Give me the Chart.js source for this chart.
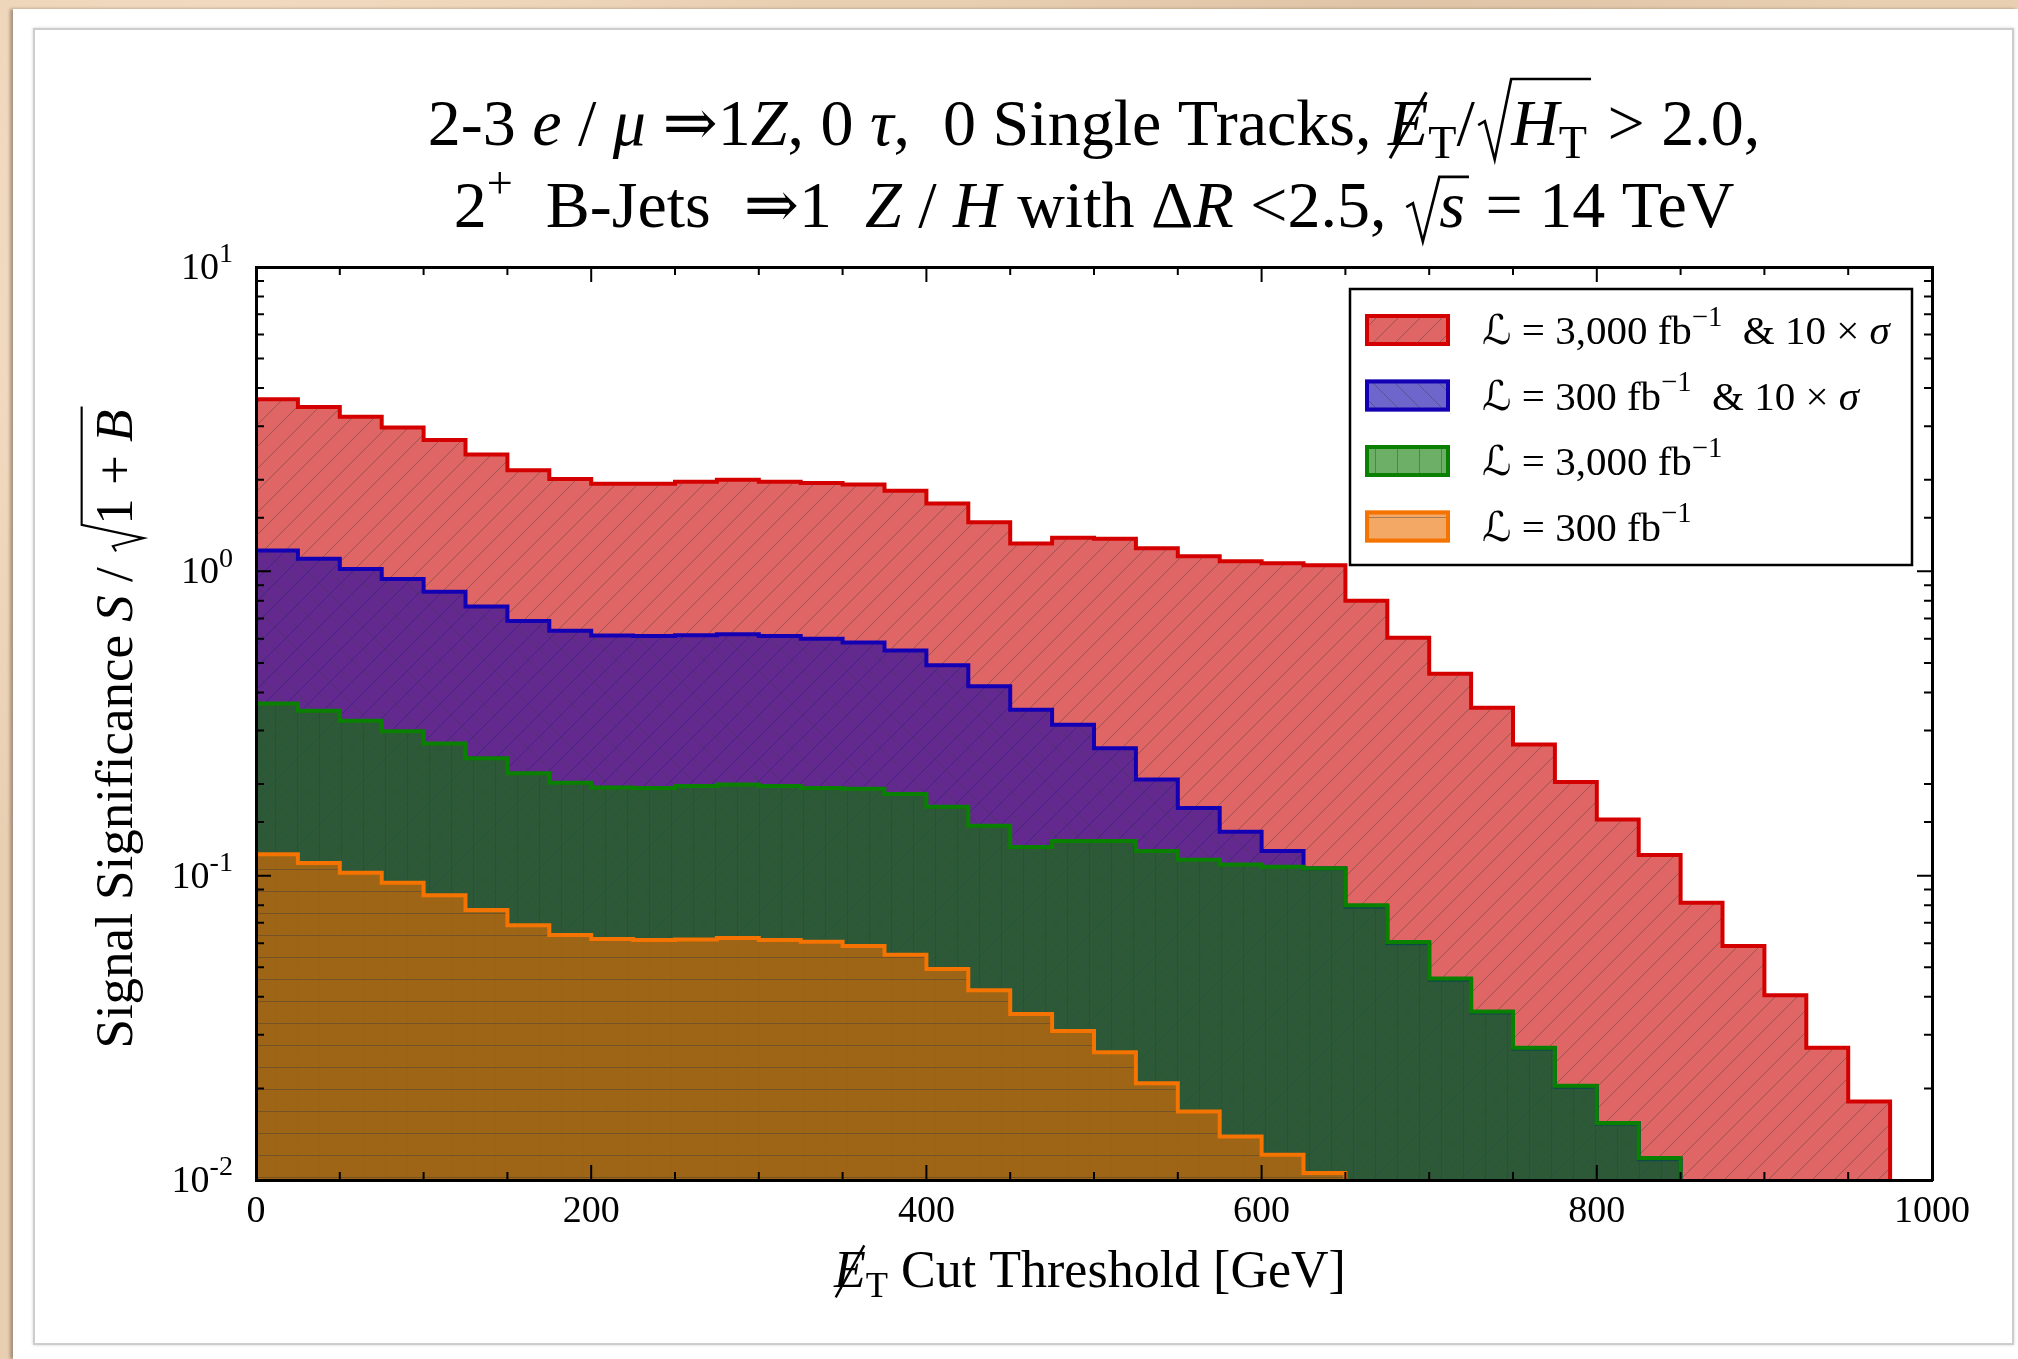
<!DOCTYPE html>
<html>
<head>
<meta charset="utf-8">
<script src="https://cdn.jsdelivr.net/npm/chart.js@4.4.1/dist/chart.umd.min.js"></script>
<style>
html, body { margin: 0; width: 2018px; height: 1359px; overflow: hidden; }
body {
  background-color: #e9cfb2;
  background-image:
    radial-gradient(circle at 12% 20%, rgba(255,238,215,0.55), rgba(255,238,215,0) 30%),
    radial-gradient(circle at 70% 8%, rgba(200,170,135,0.35), rgba(200,170,135,0) 25%),
    radial-gradient(circle at 40% 90%, rgba(255,235,210,0.5), rgba(255,235,210,0) 35%);
}
#paper { position: absolute; left: 13px; top: 9px; right: 0; bottom: 0; background: #fff;
  box-shadow: -3px 0 3px rgba(110,95,80,0.55); }
#card { position: absolute; left: 33px; top: 28px; width: 1977px; height: 1313px; background: #fff;
  border: 2px solid #cdcdcd; box-shadow: 0 0 3px rgba(0,0,0,0.18); }
#chart { position: absolute; left: 0; top: 0; }
</style>
</head>
<body>
<div id="paper"></div>
<div id="card"></div>
<canvas id="chart" width="2018" height="1359"></canvas>
<script>
//------------------------------ Data ------------------------------//
// bin edges of the MET cut threshold [GeV]
const binEdges = [0, 25, 50, 75, 100, 125, 150, 175, 200, 225, 250, 275, 300, 325, 350, 375, 400,
  425, 450, 475, 500, 525, 550, 575, 600, 625, 650, 675, 700, 725, 750, 775, 800, 825, 850, 875,
  900, 925, 950, 975, 1000];

// S/sqrt(1+B) per bin, starting at the first bin
const sigLumi3000x10 = [3.68, 3.47, 3.22, 2.97, 2.70, 2.42, 2.15, 2.01, 1.94, 1.94, 1.97, 2.00,
  1.97, 1.95, 1.93, 1.84, 1.67, 1.45, 1.235, 1.29, 1.28, 1.19, 1.12, 1.08, 1.063, 1.047, 0.80,
  0.605, 0.461, 0.356, 0.270, 0.203, 0.153, 0.117, 0.0814, 0.0587, 0.0405, 0.0272, 0.0181];
// beyond 625 GeV this one sits just under the green outline (hidden)
const sigLumi300x10 = [1.17, 1.10, 1.018, 0.943, 0.857, 0.767, 0.687, 0.638, 0.615, 0.613, 0.616,
  0.621, 0.613, 0.600, 0.584, 0.549, 0.491, 0.419, 0.351, 0.313, 0.262, 0.207, 0.167, 0.1395,
  0.1205, 0.1055, 0.079, 0.060, 0.0455, 0.0355, 0.027, 0.0202, 0.0153, 0.0117];
const sigLumi3000 = [0.368, 0.348, 0.323, 0.2985, 0.272, 0.243, 0.217, 0.202, 0.195, 0.194, 0.197,
  0.1995, 0.197, 0.194, 0.193, 0.1855, 0.1685, 0.146, 0.1243, 0.130, 0.130, 0.1205, 0.1127,
  0.1089, 0.107, 0.1057, 0.080, 0.0605, 0.0459, 0.0358, 0.0272, 0.0204, 0.0154, 0.0118];
const sigLumi300 = [0.1175, 0.110, 0.1022, 0.0948, 0.0863, 0.0771, 0.0687, 0.0638, 0.0619, 0.0615,
  0.0617, 0.0624, 0.0615, 0.0606, 0.0587, 0.055, 0.0494, 0.042, 0.0351, 0.0309, 0.0263, 0.0208,
  0.0168, 0.0139, 0.0121, 0.01055];

const xMin = 0, xMax = 1000;
const yMin = 0.01, yMax = 10;
//------------------------------------------------------------------//

const SERIF = "'Liberation Serif', 'DejaVu Serif', 'DejaVu Sans', serif";

// fill colour + hatch as one pattern (matplotlib like)
function hatch(fill, kind){
	const s = 22;
	const c = document.createElement('canvas');
	c.width = s; c.height = s;
	const g = c.getContext('2d');
	g.fillStyle = fill;
	g.fillRect(0, 0, s, s);
	g.strokeStyle = 'rgba(60,60,60,0.42)';
	g.lineWidth = 1;
	g.beginPath();
	if(kind == '/'){
		g.moveTo(-2, s + 2); g.lineTo(s + 2, -2);
		g.moveTo(-2, 2); g.lineTo(2, -2);
		g.moveTo(s - 2, s + 2); g.lineTo(s + 2, s - 2);
	}
	else if(kind == '\\'){
		g.moveTo(-2, -2); g.lineTo(s + 2, s + 2);
		g.moveTo(s - 2, -2); g.lineTo(s + 2, 2);
		g.moveTo(-2, s - 2); g.lineTo(2, s + 2);
	}
	else if(kind == '|'){
		g.moveTo(s / 2 + 0.5, 0); g.lineTo(s / 2 + 0.5, s);
	}
	else{
		g.moveTo(0, s / 2 + 0.5); g.lineTo(s, s / 2 + 0.5);
	}
	g.stroke();
	return g.createPattern(c, 'repeat');
}

// step histogram: value held from the left bin edge, closed down to the axis floor
function steps(vals){
	const pts = vals.map((v, i) => ({x: binEdges[i], y: v}));
	pts.push({x: binEdges[vals.length], y: yMin});
	return pts;
}

function histSet(vals, edge, fill, kind, order){
	return {
		data: steps(vals),
		stepped: 'before',
		borderColor: edge,
		borderWidth: 4,
		borderJoinStyle: 'miter',
		backgroundColor: hatch(fill, kind),
		fill: 'start',
		pointRadius: 0,
		order: order
	};
}

const datasets = [
	histSet(sigLumi3000x10, 'rgb(212,0,0)', 'rgba(204,0,0,0.6)', '/', 4),
	histSet(sigLumi300x10, 'rgb(20,0,180)', 'rgba(15,0,170,0.6)', '\\', 3),
	histSet(sigLumi3000, 'rgb(10,128,0)', 'rgba(12,122,0,0.6)', '|', 2),
	histSet(sigLumi300, 'rgb(245,115,0)', 'rgba(235,110,0,0.6)', '-', 1)
];

//------------------------- rich text -------------------------//
const R = t => ({t: t});
const I = t => ({t: t, it: true});
const Sub = t => ({t: t, scale: 0.7, dy: 0.2});
const Sup = t => ({t: t, scale: 0.7, dy: -0.44});
const SlashE = () => ({t: 'E', it: true, slash: true});
const Sqrt = (h, ...segs) => ({sqrt: segs, h: h});

function segFont(seg, size){
	return (seg.it ? 'italic ' : '') + (size * (seg.scale || 1)).toFixed(1) + 'px ' + SERIF;
}
function richWidth(ctx, segs, size){
	let w = 0;
	for(const s of segs){
		if(s.sqrt){ w += size * 0.55 + richWidth(ctx, s.sqrt, size) + size * 0.06; continue; }
		ctx.font = segFont(s, size);
		w += ctx.measureText(s.t).width;
	}
	return w;
}
function drawRich(ctx, segs, x, y, size){
	ctx.textAlign = 'left';
	ctx.textBaseline = 'alphabetic';
	ctx.fillStyle = '#000';
	for(const s of segs){
		if(s.sqrt){
			const inner = richWidth(ctx, s.sqrt, size);
			const rw = size * 0.55, top = y - s.h * size;
			ctx.save();
			ctx.strokeStyle = '#000';
			ctx.lineWidth = size * 0.04;
			ctx.lineJoin = 'miter';
			ctx.beginPath();
			ctx.moveTo(x + 0.05 * size, y - 0.30 * size);
			ctx.lineTo(x + 0.15 * size, y - 0.36 * size);
			ctx.lineTo(x + 0.30 * size, y + 0.22 * size);
			ctx.lineTo(x + rw, top);
			ctx.lineTo(x + rw + inner + 0.06 * size, top);
			ctx.stroke();
			ctx.restore();
			drawRich(ctx, s.sqrt, x + rw, y, size);
			x += rw + inner + 0.06 * size;
			continue;
		}
		ctx.font = segFont(s, size);
		const w = ctx.measureText(s.t).width;
		ctx.fillText(s.t, x, y + (s.dy || 0) * size);
		if(s.slash){
			ctx.save();
			ctx.strokeStyle = '#000';
			ctx.lineWidth = size * 0.045;
			ctx.beginPath();
			ctx.moveTo(x + 0.05 * w, y + 0.2 * size);
			ctx.lineTo(x + 0.95 * w, y - 0.8 * size);
			ctx.stroke();
			ctx.restore();
		}
		x += w;
	}
	return x;
}

const titleLine1 = [R('2-3 '), I('e'), R(' / '), I('μ'), R(' ⇒1'), I('Z'), R(', 0 '), I('τ'),
	R(',  0 Single Tracks, '), SlashE(), Sub('T'), R('/'), Sqrt(1.0, I('H'), Sub('T')), R(' > 2.0,')];
const titleLine2 = [R('2'), Sup('+'), R('  B-Jets  ⇒1  '), I('Z'), R(' / '), I('H'), R(' with Δ'), I('R'),
	R(' <2.5, '), Sqrt(0.76, I('s')), R(' = 14 TeV')];
const xTitle = [SlashE(), Sub('T'), R(' Cut Threshold [GeV]')];
const yTitle = [R('Signal Significance '), I('S'), R(' / '), Sqrt(0.95, R('1 + '), I('B'))];
const legendLabels = [
	[R('ℒ = 3,000 fb'), Sup('−1'), R('  & 10 × '), I('σ')],
	[R('ℒ = 300 fb'), Sup('−1'), R('  & 10 × '), I('σ')],
	[R('ℒ = 3,000 fb'), Sup('−1')],
	[R('ℒ = 300 fb'), Sup('−1')]
];

//------------------------ decorations ------------------------//
const decor = {
	id: 'decor',
	afterDraw(chart){
		const ctx = chart.ctx;
		const area = chart.chartArea;
		const sx = chart.scales.x, sx2 = chart.scales.x2, sy = chart.scales.y, sy2 = chart.scales.y2;
		const isDecade = v => Math.abs(Math.log10(v) - Math.round(Math.log10(v))) < 1e-6;
		ctx.save();

		// inward ticks on all four sides
		ctx.strokeStyle = '#000';
		ctx.lineWidth = 2;
		ctx.beginPath();
		sx.ticks.forEach(t => {
			const px = sx.getPixelForValue(t.value), len = t.value % 200 == 0 ? 15 : 8;
			ctx.moveTo(px, area.bottom); ctx.lineTo(px, area.bottom - len);
		});
		sx2.ticks.forEach(t => {
			const px = sx2.getPixelForValue(t.value), len = t.value % 200 == 0 ? 15 : 8;
			ctx.moveTo(px, area.top); ctx.lineTo(px, area.top + len);
		});
		sy.ticks.forEach(t => {
			const py = sy.getPixelForValue(t.value), len = isDecade(t.value) ? 15 : 8;
			ctx.moveTo(area.left, py); ctx.lineTo(area.left + len, py);
		});
		sy2.ticks.forEach(t => {
			const py = sy2.getPixelForValue(t.value), len = isDecade(t.value) ? 15 : 8;
			ctx.moveTo(area.right, py); ctx.lineTo(area.right - len, py);
		});
		ctx.stroke();

		// tick labels
		const tickSize = 38;
		sx.ticks.forEach(t => {
			if(t.value % 200 != 0) return;
			const seg = [R(String(t.value))];
			const w = richWidth(ctx, seg, tickSize);
			drawRich(ctx, seg, sx.getPixelForValue(t.value) - w / 2, area.bottom + 42, tickSize);
		});
		sy.ticks.forEach(t => {
			if(!isDecade(t.value)) return;
			const seg = [R('10'), {t: String(Math.round(Math.log10(t.value))), scale: 0.74, dy: -0.44}];
			const w = richWidth(ctx, seg, tickSize);
			drawRich(ctx, seg, area.left - 23 - w, sy.getPixelForValue(t.value) + 12, tickSize);
		});

		// axis titles
		const axSize = 52;
		let w = richWidth(ctx, xTitle, axSize);
		drawRich(ctx, xTitle, (area.left + area.right) / 2 - w / 2 - 4, area.bottom + 107, axSize);
		w = richWidth(ctx, yTitle, 53);
		ctx.save();
		ctx.translate(132, (area.top + area.bottom) / 2 + 4);
		ctx.rotate(-Math.PI / 2);
		drawRich(ctx, yTitle, -w / 2, 0, 53);
		ctx.restore();

		// title
		const tSize = 66;
		w = richWidth(ctx, titleLine1, tSize);
		drawRich(ctx, titleLine1, (area.left + area.right) / 2 - w / 2, 145, tSize);
		w = richWidth(ctx, titleLine2, tSize);
		drawRich(ctx, titleLine2, (area.left + area.right) / 2 - w / 2, 227, tSize);

		// legend
		const box = {x: 1350, y: 289, w: 562, h: 276};
		ctx.fillStyle = '#fff';
		ctx.fillRect(box.x, box.y, box.w, box.h);
		ctx.strokeStyle = '#000';
		ctx.lineWidth = 2.5;
		ctx.strokeRect(box.x, box.y, box.w, box.h);
		chart.data.datasets.forEach((ds, i) => {
			const cy = box.y + 41 + i * 65.5;
			ctx.fillStyle = '#fff';
			ctx.fillRect(1365, cy - 16, 85, 32);
			ctx.fillStyle = ds.backgroundColor;
			ctx.fillRect(1365, cy - 16, 85, 32);
			ctx.strokeStyle = ds.borderColor;
			ctx.lineWidth = 4;
			ctx.strokeRect(1367, cy - 14, 81, 28);
			drawRich(ctx, legendLabels[i], 1482, cy + 14, 41);
		});
		ctx.restore();
	}
};

//-------------------------- chart --------------------------//
const frame = {display: true, width: 3, color: '#000', z: 1};
new Chart(document.getElementById('chart'), {
	type: 'line',
	data: {datasets: datasets},
	options: {
		responsive: false,
		animation: false,
		events: [],
		layout: {padding: {left: 256, right: 86, top: 267, bottom: 179}},
		plugins: {legend: {display: false}, tooltip: {enabled: false}, title: {display: false}},
		scales: {
			x: {type: 'linear', position: 'bottom', min: xMin, max: xMax,
				ticks: {display: false, stepSize: 50}, grid: {display: false}, border: frame,
				afterFit: s => { s.height = 0; }},
			x2: {type: 'linear', position: 'top', min: xMin, max: xMax,
				ticks: {display: false, stepSize: 50}, grid: {display: false}, border: frame,
				afterFit: s => { s.height = 0; }},
			y: {type: 'logarithmic', position: 'left', min: yMin, max: yMax,
				ticks: {display: false}, grid: {display: false}, border: frame,
				afterFit: s => { s.width = 0; }},
			y2: {type: 'logarithmic', position: 'right', min: yMin, max: yMax,
				ticks: {display: false}, grid: {display: false}, border: frame,
				afterFit: s => { s.width = 0; }}
		}
	},
	plugins: [decor]
});
</script>
</body>
</html>
